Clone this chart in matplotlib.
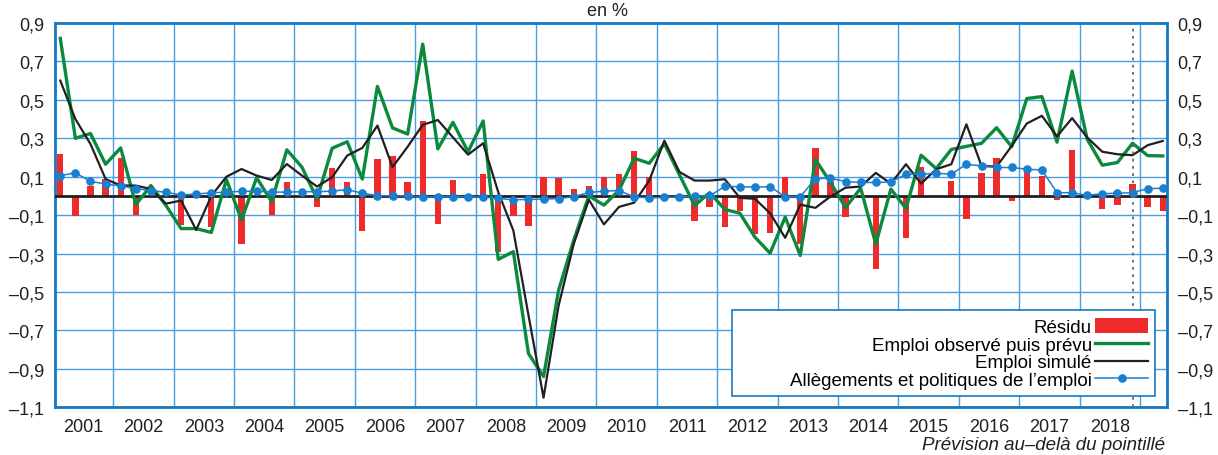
import numpy as np
import matplotlib.pyplot as plt
from matplotlib.patches import Patch, Rectangle
from matplotlib.lines import Line2D

plt.rcParams['font.family'] = ['Liberation Sans', 'DejaVu Sans']
plt.rcParams['font.size'] = 13

# quarterly data, 2001Q1 .. 2019Q2
years = [str(y) for y in range(2001, 2019)]

residu = [0.22, -0.107, 0.054, 0.088, 0.20, -0.10, 0.0, 0.0, -0.15, 0.0,
          -0.16, 0.0, -0.25, 0.0, -0.10, 0.075, 0.0, -0.06, 0.146, 0.075,
          -0.18, 0.19, 0.21, 0.075, 0.39, -0.145, 0.083, 0.0, 0.114, -0.29,
          -0.107, -0.157, 0.10, 0.094, 0.036, 0.05, 0.10, 0.114, 0.235, 0.096,
          0.0, 0.0, -0.132, -0.06, -0.162, -0.08, -0.20, -0.194, 0.10, -0.25,
          0.248, 0.07, -0.108, -0.01, -0.38, -0.01, -0.22, 0.149, 0.0, 0.078,
          -0.118, 0.118, 0.20, -0.027, 0.132, 0.105, -0.02, 0.238, 0.0, -0.066,
          -0.046, 0.061, -0.058, -0.078]

emploi_obs = [0.82, 0.30, 0.325, 0.165, 0.25, -0.045, 0.054, -0.05, -0.17, -0.17,
              -0.19, 0.085, -0.125, 0.095, -0.03, 0.24, 0.15, -0.015, 0.248, 0.282,
              0.088, 0.57, 0.354, 0.322, 0.79, 0.245, 0.383, 0.23, 0.39, -0.33,
              -0.29, -0.82, -0.94, -0.49, -0.23, 0.0, -0.048, 0.03, 0.196, 0.17,
              0.272, 0.11, -0.05, 0.017, -0.07, -0.09, -0.215, -0.298, -0.11, -0.31,
              0.19, 0.07, -0.06, 0.04, -0.25, 0.036, -0.065, 0.212, 0.142, 0.242,
              0.258, 0.274, 0.355, 0.256, 0.507, 0.517, 0.28, 0.65, 0.295, 0.16,
              0.174, 0.274, 0.21, 0.208]

emploi_sim = [0.60, 0.40, 0.27, 0.088, 0.054, 0.054, 0.036, -0.04, -0.024, -0.177,
              0.0, 0.10, 0.14, 0.106, 0.083, 0.166, 0.106, 0.049, 0.097, 0.21,
              0.25, 0.366, 0.15, 0.256, 0.37, 0.395, 0.305, 0.215, 0.274, 0.02,
              -0.18, -0.62, -1.05, -0.57, -0.25, -0.02, -0.148, -0.057, -0.035, 0.08,
              0.288, 0.125, 0.08, 0.08, 0.087, -0.01, -0.015, -0.09, -0.218, -0.045,
              -0.062, -0.003, 0.043, 0.049, 0.12, 0.064, 0.165, 0.064, 0.139, 0.165,
              0.373, 0.156, 0.153, 0.26, 0.377, 0.417, 0.31, 0.405, 0.304, 0.23,
              0.217, 0.212, 0.264, 0.286]

allegements = [0.106, 0.12, 0.076, 0.062, 0.052, 0.038, 0.028, 0.019, 0.005, 0.01,
               0.016, 0.02, 0.024, 0.025, 0.02, 0.02, 0.022, 0.022, 0.025, 0.033,
               0.014, 0.002, 0.0, 0.0, -0.007, -0.004, -0.004, -0.004, -0.006, -0.013,
               -0.02, -0.018, -0.016, -0.014, -0.004, 0.018, 0.025, 0.028, -0.005, -0.01,
               -0.008, -0.006, 0.0, 0.0, 0.05, 0.048, 0.046, 0.048, -0.004, -0.004,
               0.09, 0.092, 0.075, 0.07, 0.07, 0.073, 0.113, 0.113, 0.118, 0.113,
               0.165, 0.156, 0.148, 0.148, 0.139, 0.135, 0.017, 0.017, 0.003, 0.012,
               0.014, 0.017, 0.038, 0.04]

yticks = [0.9, 0.7, 0.5, 0.3, 0.1, -0.1, -0.3, -0.5, -0.7, -0.9, -1.1]
last_obs = 71  # 2018Q4

RED = '#ee2a2b'
GREEN = '#0b8a3e'
BLACK = '#231f20'
BLUE = '#1a7fcf'
GRID = '#4a9fde'
FRAME = '#1578c4'
TXT = '#231f20'

x = np.arange(len(residu))

fig = plt.figure(figsize=(12.18, 4.56), dpi=100)
ax = fig.add_axes([55 / 1218, 1 - 408.3 / 456, 1111.5 / 1218, 384.3 / 456])

ax.bar(x, residu, width=0.42, color=RED, zorder=2)
ax.axhline(0, color=BLACK, lw=2, zorder=3)
ax.plot(x, emploi_obs, color=GREEN, lw=2.4, zorder=4)
ax.plot(x, emploi_sim, color=BLACK, lw=1.6, zorder=5)
ax.plot(x, allegements, color=BLUE, lw=1.1, marker='o', ms=5.2, zorder=6)
ax.axvline(last_obs, color='#666666', lw=1.3, ls=(0, (1.5, 2.5)), zorder=7)

ax.set_xlim(-0.35, 73.25)
ax.set_ylim(-1.1, 0.9)

bounds = np.arange(3.5, 72, 4)
ax.set_xticks(bounds)
ax.set_xticklabels([])
ax.set_xticks(np.arange(len(years)) * 4 + 1.5, minor=True)
ax.set_xticklabels(years, minor=True)
ax.tick_params(axis='x', which='both', length=0, pad=8, colors=TXT)

ax.set_yticks(yticks)
ax.set_yticklabels([f'{v:.1f}'.replace('.', ',').replace('-', '–') for v in yticks])
ax.tick_params(axis='y', length=0, pad=8, left=True, right=True,
               labelleft=True, labelright=True, colors=TXT)

ax.grid(True, which='major', color=GRID, lw=1.0, zorder=0)
ax.set_axisbelow(True)
for s in ax.spines.values():
    s.set_color(FRAME)
    s.set_linewidth(2)

# legend box (wider than its content, as in the original)
ax.add_patch(Rectangle((0.609, 0.0286), 0.3806, 0.225, transform=ax.transAxes,
                       facecolor='white', edgecolor=FRAME, lw=1.2, zorder=9))

handles = [Patch(facecolor=RED, edgecolor='none'),
           Line2D([], [], color=GREEN, lw=2.4),
           Line2D([], [], color=BLACK, lw=1.6),
           Line2D([], [], color=BLUE, lw=1.1, marker='o', ms=5.2)]
labels = ['Résidu', 'Emploi observé puis prévu', 'Emploi simulé',
          'Allègements et politiques de l’emploi']
leg = ax.legend(handles, labels, loc='lower right', bbox_to_anchor=(0.9897, 0.0286),
                borderaxespad=0, markerfirst=False, frameon=False,
                handlelength=2.8, handleheight=0.8, handletextpad=0.2,
                labelspacing=0.0, borderpad=0.38, fontsize=13.5)
leg.set_zorder(10)

fig.text(0.499, 1 - 11 / 456, 'en %', ha='center', va='center', fontsize=13, color=TXT)
fig.text(1165 / 1218, 1 - 446 / 456, 'Prévision au–delà du pointillé', ha='right', va='center',
         fontsize=13.5, style='italic', color=TXT)

fig.savefig('out.png', dpi=100)
